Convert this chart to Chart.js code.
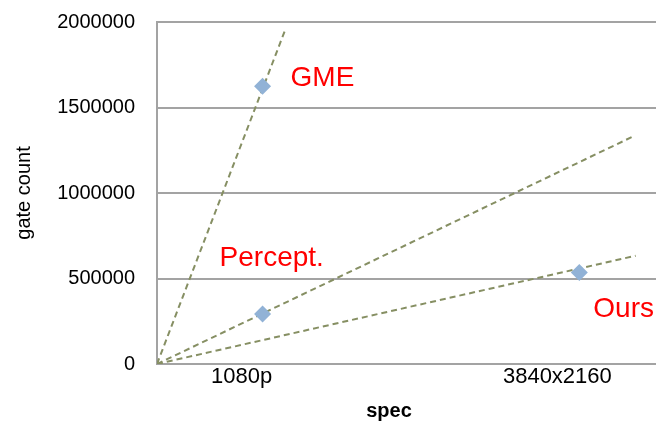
<!DOCTYPE html>
<html>
<head>
<meta charset="utf-8">
<script src="https://cdn.jsdelivr.net/npm/chart.js@4"></script>
<style>
  html, body { margin: 0; padding: 0; background: #fff; }
  #wrap { width: 656px; height: 424px; }
</style>
</head>
<body>
<div id="wrap"><canvas id="chart" width="656" height="424"></canvas></div>
<script>
// pixel counts of the two specs
const px1080 = 1920 * 1080;
const px4k = 3840 * 2160;

// x axis labels and where they sit
const xTickLabels = ["1080p", "3840x2160"];
const xTickValues = [1660000, 7863000];

// measured gate counts
const gmePoints = [{ x: px1080, y: 1625000 }];
const perceptPoints = [{ x: px1080, y: 292000 }];
const oursPoints = [{ x: px4k, y: 535000 }];

// linear trend lines through the origin
const gmeTrend = [{ x: 0, y: 0 }, { x: 2532000, y: 1965000 }];
const perceptTrend = [{ x: 0, y: 0 }, { x: 9380000, y: 1335000 }];
const oursTrend = [{ x: 0, y: 0 }, { x: 9400000, y: 633000 }];

const seriesNames = ["GME", "Percept.", "Ours"];

const font = "'Liberation Sans', Arial, sans-serif";
const gridColor = '#a3a3a3';
const trendColor = '#868f63';
const markerColor = '#91b2d6';

function trend(data) {
  return {
    data: data,
    showLine: true,
    borderColor: trendColor,
    borderWidth: 2,
    borderDash: [6, 4],
    pointRadius: 0,
    fill: false
  };
}

function marker(label, data) {
  return {
    label: label,
    data: data,
    pointStyle: 'rectRot',
    pointRadius: 8.5,
    backgroundColor: markerColor,
    borderWidth: 0
  };
}

// red series names next to their points, plus the x axis title
const seriesLabels = {
  id: 'seriesLabels',
  afterDatasetsDraw(chart) {
    const { ctx, scales: { x, y } } = chart;
    const spots = [
      { pt: gmePoints[0], dx: 28, dy: 0 },
      { pt: perceptPoints[0], dx: -43, dy: -48 },
      { pt: oursPoints[0], dx: 14, dy: 44 }
    ];
    ctx.save();
    ctx.fillStyle = '#ff0000';
    ctx.font = '28px ' + font;
    ctx.textAlign = 'left';
    ctx.textBaseline = 'alphabetic';
    spots.forEach((s, i) => {
      ctx.fillText(seriesNames[i], x.getPixelForValue(s.pt.x) + s.dx, y.getPixelForValue(s.pt.y) + s.dy);
    });
    ctx.fillStyle = '#000';
    ctx.font = 'bold 20px ' + font;
    ctx.textAlign = 'center';
    ctx.textBaseline = 'middle';
    ctx.fillText('spec', 389, 411);
    ctx.restore();
  }
};

new Chart(document.getElementById('chart'), {
  type: 'scatter',
  data: {
    datasets: [
      marker(seriesNames[0], gmePoints),
      marker(seriesNames[1], perceptPoints),
      marker(seriesNames[2], oursPoints),
      trend(gmeTrend),
      trend(perceptTrend),
      trend(oursTrend)
    ]
  },
  options: {
    responsive: false,
    animation: false,
    events: [],
    layout: { autoPadding: false, padding: { top: 22, right: 0, bottom: 0, left: 0 } },
    plugins: {
      legend: { display: false },
      tooltip: { enabled: false }
    },
    scales: {
      x: {
        type: 'linear',
        min: 0,
        max: 9800000,
        afterFit: s => { s.height = 60; },
        afterBuildTicks: s => { s.ticks = xTickValues.map(v => ({ value: v })); },
        grid: { display: false, drawTicks: false },
        border: { color: gridColor, width: 2 },
        ticks: {
          padding: 0,
          maxRotation: 0,
          autoSkip: false,
          color: '#000',
          font: { family: font, size: 22 },
          callback: (v, i) => xTickLabels[i]
        }
      },
      y: {
        min: 0,
        max: 2000000,
        // fixed width; the tick padding should not push the plot down
        afterFit: s => { s.width = 157; s.paddingTop = 0; s.paddingBottom = 0; },
        grid: { color: gridColor, lineWidth: 2, drawTicks: false },
        border: { color: gridColor, width: 2 },
        ticks: {
          stepSize: 500000,
          padding: 22,
          color: '#000',
          font: { family: font, size: 20 },
          callback: v => String(v)
        },
        title: {
          display: true,
          text: 'gate count',
          color: '#000',
          font: { family: font, size: 20 },
          padding: { top: 12, bottom: 0 }
        }
      }
    }
  },
  plugins: [seriesLabels]
});
</script>
</body>
</html>
